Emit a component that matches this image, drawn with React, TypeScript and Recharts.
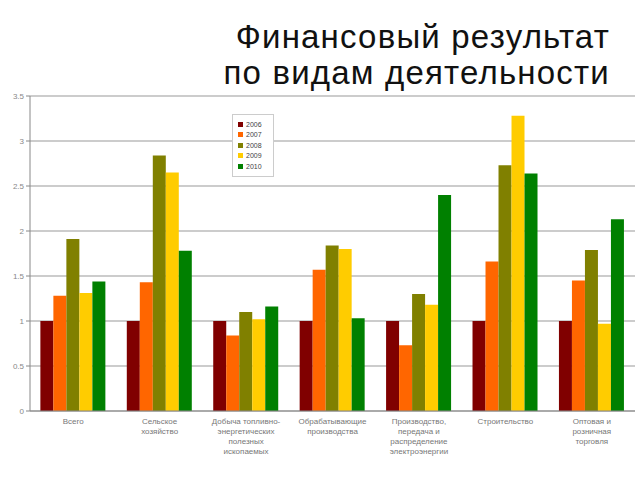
import { BarChart, Bar, XAxis, YAxis, CartesianGrid } from "recharts";

const categories = [
  "Всего",
  "Сельское хозяйство",
  "Добыча топливно-энергетических полезных ископаемых",
  "Обрабатывающие производства",
  "Производство, передача и распределение электроэнергии",
  "Строительство",
  "Оптовая и розничная торговля",
];
const tickLines = [
  ["Всего"],
  ["Сельское", "хозяйство"],
  ["Добыча топливно-", "энергетических", "полезных", "ископаемых"],
  ["Обрабатывающие", "производства"],
  ["Производство,", "передача и", "распределение", "электроэнергии"],
  ["Строительство"],
  ["Оптовая и", "розничная", "торговля"],
];
const years = ["2006", "2007", "2008", "2009", "2010"];
const v2006 = [1.0, 1.0, 1.0, 1.0, 1.0, 1.0, 1.0];
const v2007 = [1.28, 1.43, 0.84, 1.57, 0.73, 1.66, 1.45];
const v2008 = [1.91, 2.84, 1.1, 1.84, 1.3, 2.73, 1.79];
const v2009 = [1.31, 2.65, 1.02, 1.8, 1.18, 3.28, 0.97];
const v2010 = [1.44, 1.78, 1.16, 1.03, 2.4, 2.64, 2.13];
const yTicks = [0, 0.5, 1, 1.5, 2, 2.5, 3, 3.5];
const colors = ["#800000", "#ff6600", "#808000", "#ffcc00", "#008000"];

const seriesValues = [v2006, v2007, v2008, v2009, v2010];
const data = categories.map((c, i) => {
  const row: Record<string, any> = { name: c, idx: i };
  years.forEach((y, k) => (row[y] = seriesValues[k][i]));
  return row;
});

const font = "Liberation Sans, Arial, sans-serif";

function CatTick(props: any) {
  const { x, y, payload } = props;
  const lines = tickLines[payload.index] || [payload.value];
  return (
    <text x={x} y={y} textAnchor="middle" fontSize={8} fill="#777" fontFamily={font}>
      {lines.map((l, i) => (
        <tspan key={i} x={x} dy={i === 0 ? 5 : 10}>
          {l}
        </tspan>
      ))}
    </text>
  );
}

function LegendBox() {
  return (
    <div
      style={{
        position: "absolute",
        left: 232,
        top: 114,
        width: 30,
        border: "1px solid #ccc",
        background: "#fff",
        padding: "4px 5px",
        fontFamily: font,
        fontSize: 7,
        color: "#444",
      }}
    >
      {years.map((y, k) => (
        <div key={y} style={{ display: "flex", alignItems: "center", height: 10.5 }}>
          <span style={{ width: 5, height: 5, background: colors[k], marginRight: 3, display: "inline-block" }} />
          {y}
        </div>
      ))}
    </div>
  );
}

export default function App() {
  return (
    <div style={{ position: "absolute", left: 0, top: 0, width: 640, height: 480, background: "#fff" }}>
      <div
        style={{
          position: "absolute",
          right: 30,
          top: 19,
          textAlign: "right",
          fontFamily: font,
          fontSize: 33,
          letterSpacing: 1.2,
          lineHeight: "36px",
          color: "#111",
          whiteSpace: "nowrap",
        }}
      >
        <div>Финансовый результат</div>
        <div>по видам деятельности</div>
      </div>
      <BarChart
        width={640}
        height={480}
        data={data}
        margin={{ top: 96, right: 5, left: 0, bottom: 9 }}
        barCategoryGap="12%"
        barGap={0}
        style={{ position: "absolute", left: 0, top: 0 }}
      >
        <CartesianGrid vertical={false} stroke="#999" />
        <XAxis
          dataKey="name"
          interval={0}
          height={60}
          tick={<CatTick />}
          tickLine={false}
          axisLine={{ stroke: "#888" }}
        />
        <YAxis
          width={30}
          domain={[0, 3.5]}
          ticks={yTicks}
          tickFormatter={(v: number) => String(v)}
          tick={{ fontSize: 8, fill: "#888", fontFamily: font }}
          tickSize={4}
          axisLine={{ stroke: "#888" }}
          tickLine={{ stroke: "#888" }}
        />
        {years.map((y, k) => (
          <Bar key={y} dataKey={y} fill={colors[k]} isAnimationActive={false} />
        ))}
      </BarChart>
      <LegendBox />
    </div>
  );
}
